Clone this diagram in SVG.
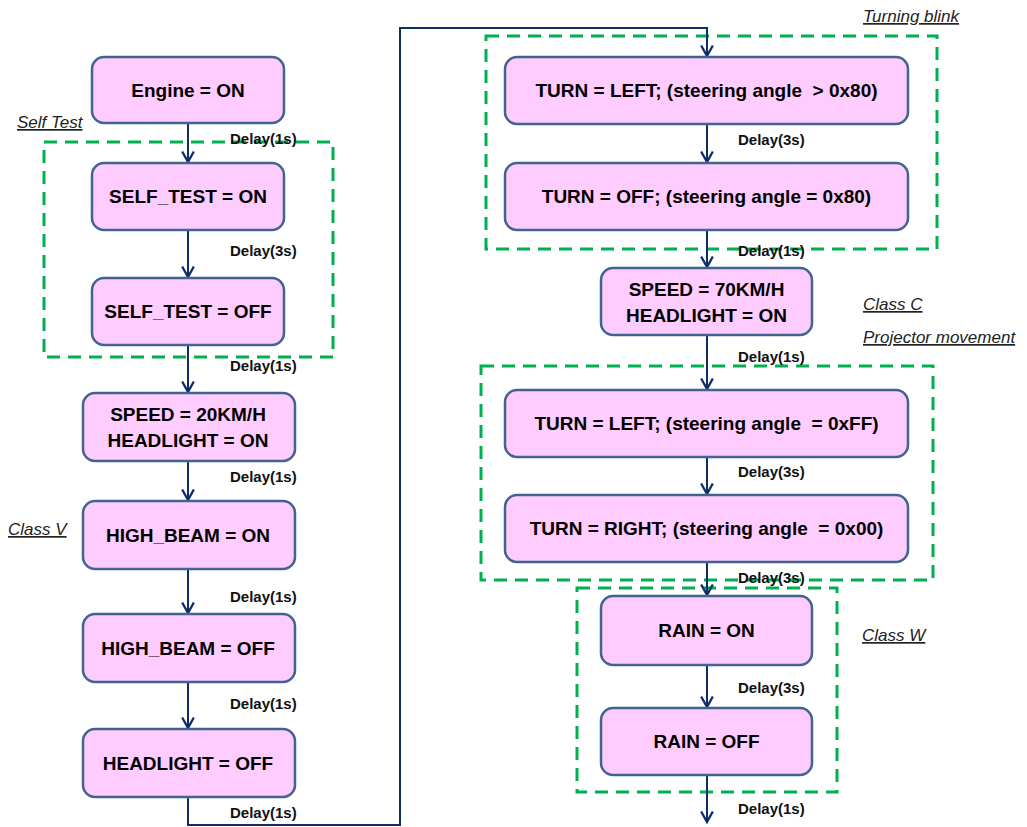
<svg xmlns="http://www.w3.org/2000/svg" width="1027" height="827" viewBox="0 0 1027 827">
<style>
.node rect{fill:#FFCCFF;stroke:#41648F;stroke-width:2.5}
.node text{font-family:"Liberation Sans",Arial,sans-serif;font-weight:bold;font-size:19px;fill:#000;text-anchor:middle;dominant-baseline:central}
.conn{fill:none;stroke:#102E66;stroke-width:2}
.dl{font-family:"Liberation Sans",Arial,sans-serif;font-weight:bold;font-size:15px;fill:#111}
.grp{fill:none;stroke:#00B050;stroke-width:3;stroke-dasharray:13 8}
.lbl{font-family:"Liberation Sans",Arial,sans-serif;font-style:italic;font-size:17px;fill:#222;text-decoration:underline}
</style>
<defs>
<marker id="ah" markerUnits="userSpaceOnUse" markerWidth="14" markerHeight="14" viewBox="0 0 12 12" refX="10" refY="6" orient="auto">
<path d="M1,1 L10,6 L1,11" fill="none" stroke="#102E66" stroke-width="2"/>
</marker>
</defs>
<rect width="1027" height="827" fill="#fff"/>

<g id="groups">
<rect class="grp" x="44" y="142" width="289" height="215"/>
<rect class="grp" x="486" y="36" width="451" height="213"/>
<rect class="grp" x="481" y="366" width="452" height="214"/>
<rect class="grp" x="577" y="588" width="260" height="204"/>
</g>

<g id="connectors">
<line class="conn" x1="188" y1="123" x2="188" y2="162" marker-end="url(#ah)"/>
<line class="conn" x1="188" y1="230" x2="188" y2="277" marker-end="url(#ah)"/>
<line class="conn" x1="188" y1="345" x2="188" y2="392" marker-end="url(#ah)"/>
<line class="conn" x1="188" y1="461" x2="188" y2="500" marker-end="url(#ah)"/>
<line class="conn" x1="188" y1="569" x2="188" y2="613" marker-end="url(#ah)"/>
<line class="conn" x1="188" y1="682" x2="188" y2="728" marker-end="url(#ah)"/>
<polyline class="conn" points="188,797 188,825 400,825 400,28 707,28 707,56" marker-end="url(#ah)"/>
<line class="conn" x1="707" y1="124" x2="707" y2="162" marker-end="url(#ah)"/>
<line class="conn" x1="707" y1="230" x2="707" y2="267" marker-end="url(#ah)"/>
<line class="conn" x1="707" y1="335" x2="707" y2="389" marker-end="url(#ah)"/>
<line class="conn" x1="707" y1="457" x2="707" y2="494" marker-end="url(#ah)"/>
<line class="conn" x1="707" y1="562" x2="707" y2="595" marker-end="url(#ah)"/>
<line class="conn" x1="707" y1="665" x2="707" y2="707" marker-end="url(#ah)"/>
<line class="conn" x1="707" y1="775" x2="707" y2="822" marker-end="url(#ah)"/>
<text class="dl" x="230" y="144">Delay(1s)</text>
<text class="dl" x="230" y="256">Delay(3s)</text>
<text class="dl" x="230" y="371">Delay(1s)</text>
<text class="dl" x="230" y="482">Delay(1s)</text>
<text class="dl" x="230" y="602">Delay(1s)</text>
<text class="dl" x="230" y="709">Delay(1s)</text>
<text class="dl" x="230" y="818">Delay(1s)</text>
<text class="dl" x="738" y="145">Delay(3s)</text>
<text class="dl" x="738" y="256">Delay(1s)</text>
<text class="dl" x="738" y="362">Delay(1s)</text>
<text class="dl" x="738" y="477">Delay(3s)</text>
<text class="dl" x="738" y="583">Delay(3s)</text>
<text class="dl" x="738" y="693">Delay(3s)</text>
<text class="dl" x="738" y="814">Delay(1s)</text>
</g>

<g id="labels">
<text class="lbl" x="17" y="128">Self Test</text>
<text class="lbl" x="8" y="535">Class V</text>
<text class="lbl" x="863" y="22">Turning blink</text>
<text class="lbl" x="863" y="310">Class C</text>
<text class="lbl" x="863" y="343">Projector movement</text>
<text class="lbl" x="862" y="641">Class W</text>
</g>

<g id="n-engine" class="node"><rect x="92" y="57" width="192" height="66" rx="12"/><text x="188" y="90">Engine = ON</text></g>
<g id="n-selftest-on" class="node"><rect x="92" y="163" width="192" height="67" rx="12"/><text x="188" y="196.5">SELF_TEST = ON</text></g>
<g id="n-selftest-off" class="node"><rect x="92" y="278" width="192" height="67" rx="12"/><text x="188" y="311.5">SELF_TEST = OFF</text></g>
<g id="n-speed20" class="node"><rect x="83" y="393" width="212" height="68" rx="12"/><text x="188" y="414">SPEED = 20KM/H</text><text x="188" y="440">HEADLIGHT = ON</text></g>
<g id="n-highbeam-on" class="node"><rect x="83" y="501" width="212" height="68" rx="12"/><text x="188" y="535">HIGH_BEAM = ON</text></g>
<g id="n-highbeam-off" class="node"><rect x="83" y="614" width="212" height="68" rx="12"/><text x="188" y="648">HIGH_BEAM = OFF</text></g>
<g id="n-headlight-off" class="node"><rect x="83" y="729" width="212" height="68" rx="12"/><text x="188" y="763">HEADLIGHT = OFF</text></g>

<g id="n-turn-left-80" class="node"><rect x="505" y="57" width="403" height="67" rx="12"/><text x="706.5" y="90.5" xml:space="preserve">TURN = LEFT; (steering angle  &gt; 0x80)</text></g>
<g id="n-turn-off" class="node"><rect x="505" y="163" width="403" height="67" rx="12"/><text x="706.5" y="196.5">TURN = OFF; (steering angle = 0x80)</text></g>
<g id="n-speed70" class="node"><rect x="601" y="268" width="211" height="67" rx="12"/><text x="706.5" y="289">SPEED = 70KM/H</text><text x="706.5" y="315">HEADLIGHT = ON</text></g>
<g id="n-turn-left-ff" class="node"><rect x="505" y="390" width="403" height="67" rx="12"/><text x="706.5" y="423.5" xml:space="preserve">TURN = LEFT; (steering angle  = 0xFF)</text></g>
<g id="n-turn-right" class="node"><rect x="505" y="495" width="403" height="67" rx="12"/><text x="706.5" y="528.5" xml:space="preserve">TURN = RIGHT; (steering angle  = 0x00)</text></g>
<g id="n-rain-on" class="node"><rect x="601" y="596" width="211" height="69" rx="12"/><text x="706.5" y="630.5">RAIN = ON</text></g>
<g id="n-rain-off" class="node"><rect x="601" y="708" width="211" height="67" rx="12"/><text x="706.5" y="741.5">RAIN = OFF</text></g>
</svg>
